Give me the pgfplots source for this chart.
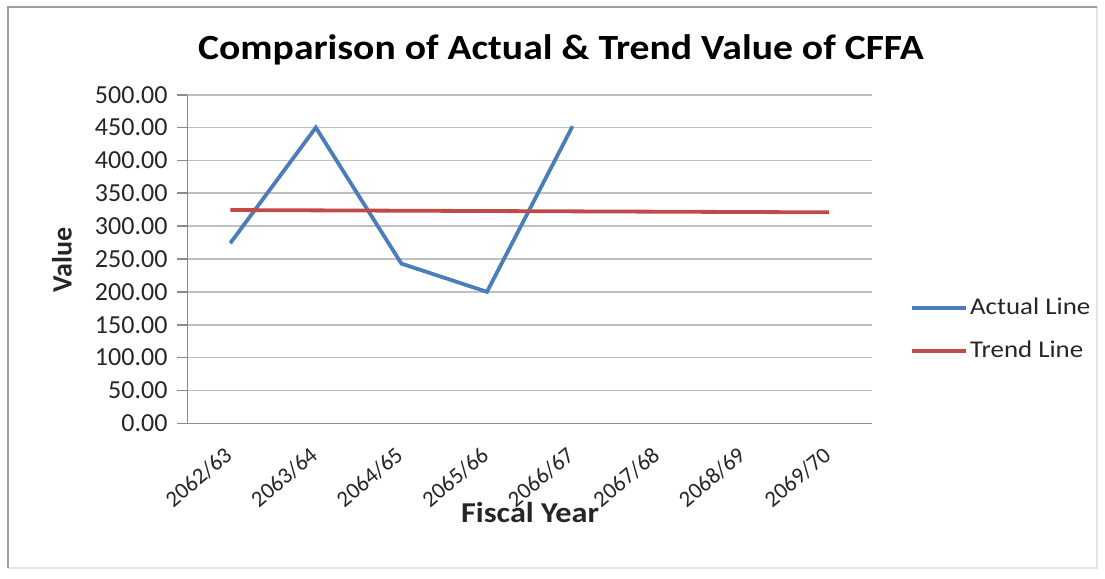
\documentclass[border=0pt]{standalone}
\usepackage{fontspec}
\setmainfont{Carlito}
\usepackage{graphicx}
\usepackage{pgfplots}
\usepackage{pgfplotstable}
\pgfplotsset{compat=1.18}

\definecolor{actualblue}{HTML}{4A7EBB}
\definecolor{trendred}{HTML}{BE4B48}
\definecolor{gridgray}{HTML}{BFBFBF}
\definecolor{axisgray}{HTML}{8C8C8C}

% CFFA: actual values and trend values per fiscal year (index 0 = 2062/63)
\pgfplotstableread{
idx value
0 274
1 450
2 243
3 200
4 452
}\actualdata
\pgfplotstableread{
idx value
0 324.5
1 324.0
2 323.5
3 323.0
4 322.5
5 322.0
6 321.5
7 321.0
}\trenddata

\newcommand{\wide}[1]{\scalebox{1.12}[1]{#1}}

\begin{document}
\begin{tikzpicture}
\useasboundingbox (-93.75pt,-77.85pt) rectangle (458.75pt,211.65pt);
\fill[white] (-93.75pt,-77.85pt) rectangle (458.75pt,211.65pt);
% chart area frame
\draw[gray!20, line width=0.8pt] (-89.75pt,208.15pt) -- (454.75pt,208.15pt) -- (454.75pt,-72.35pt) -- (-89.75pt,-72.35pt);
\draw[gray!75, line width=1.2pt] (-89.75pt,-72.35pt) -- (-89.75pt,208.15pt) -- (454.75pt,208.15pt);
\begin{axis}[
  at={(0pt,0pt)}, anchor=south west,
  scale only axis,
  width=342.25pt, height=164.3pt,
  xmin=-0.5, xmax=7.5, ymin=0, ymax=500,
  axis x line=bottom, axis y line=left,
  axis line style={-, axisgray, line width=0.8pt},
  xtick={0,...,7},
  xticklabels={2062/63,2063/64,2064/65,2065/66,2066/67,2067/68,2068/69,2069/70},
  minor xtick={-0.5,0.5,...,7.5},
  ytick={0,50,...,500},
  tick align=outside,
  x tick style={draw=none},
  minor x tick style={axisgray, line width=0.8pt},
  minor tick length=4.5pt,
  y tick style={axisgray, line width=0.8pt},
  major tick length=5pt,
  ymajorgrids,
  grid style={gridgray, line width=0.8pt},
  /pgf/number format/assume math mode=true,
  tick label style={text=black!85},
  yticklabel style={/pgf/number format/fixed, /pgf/number format/fixed zerofill, /pgf/number format/precision=2, xshift=-1.5pt, font=\fontsize{13}{15}\selectfont},
  xticklabel style={font=\fontsize{11.4}{13}\selectfont, xshift=-3.6pt, yshift=-6pt, rotate=40, anchor=north east, inner sep=0pt},
  xlabel={\wide{Fiscal Year}},
  ylabel={Value},
  xlabel style={at={(axis description cs:0.5004,-0.27)}, anchor=center, font=\bfseries\fontsize{14.4}{17}\selectfont, text=black!85},
  ylabel style={at={(axis description cs:-0.1833,0.498)}, anchor=center, rotate=0, font=\bfseries\fontsize{14}{17}\selectfont, text=black!85},
  title={\wide{Comparison of Actual \& Trend Value of CFFA}},
  title style={at={(axis description cs:0.5457,1.136)}, anchor=center, yshift=-6pt, font=\bfseries\fontsize{17.7}{21}\selectfont},
  legend style={at={(axis description cs:1.0467,0.400)}, anchor=north west, draw=none, fill=none,
    font=\fontsize{12}{14}\selectfont, text=black!85, row sep=9.5pt,
    nodes={inner sep=1pt}},
  legend cell align=left,
  legend image code/.code={\draw[#1] (0pt,0pt) -- (27pt,0pt);},
]
\addplot[actualblue, line width=1.9pt] table[x=idx, y=value] {\actualdata};
\addlegendentry{\wide{Actual Line}}
\addplot[trendred, line width=1.9pt] table[x=idx, y=value] {\trenddata};
\addlegendentry{\wide{Trend Line}}
\end{axis}
\end{tikzpicture}
\end{document}
